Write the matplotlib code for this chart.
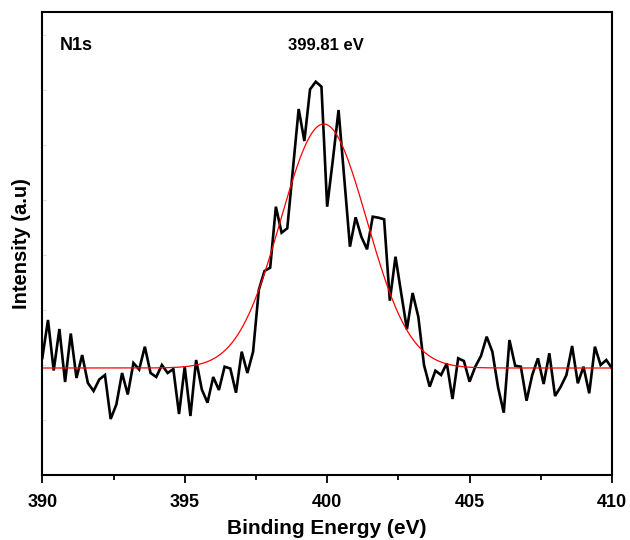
import numpy as np
import matplotlib
matplotlib.use("Agg")
import matplotlib.pyplot as plt
from matplotlib.ticker import MultipleLocator

# Binding energy grid (eV)
energy = np.linspace(390.0, 410.0, 101)

intensity_px = [
    358, 320, 370.5, 329, 382, 333.5, 378, 355, 383, 391,
    379.5, 375, 419, 404.5, 373, 394.5, 363, 369.5, 346.7, 373,
    377, 365, 373, 369, 414, 366.7, 416, 360, 389.5, 402.7,
    377, 390, 366.7, 368.5, 392.7, 351.7, 373, 351.7, 290, 271,
    267.7, 206.7, 232.7, 228.3, 168.7, 109, 141, 89.3, 81.7, 86.7,
    206.7, 160, 110, 178, 246.7, 217.3, 236.7, 249.3, 216.7, 217.7,
    219.3, 300.7, 256.7, 293.3, 329.3, 293, 316.7, 365, 386.7, 370.7,
    375, 363.3, 399, 358.3, 361, 381.7, 366.7, 356, 336.7, 351.7,
    387.3, 412.7, 340, 365.7, 366.7, 400.7, 375, 358.3, 384, 353.3,
    396, 386.7, 375, 346, 383.3, 366.7, 393.3, 346.7, 365, 360,
    368.3,
]
intensity = [475 - v for v in intensity_px]

# Gaussian fit parameters
fit_center = 399.88
fit_fwhm = 3.56
fit_baseline = 475 - 368
fit_height = 368 - 124

peak_label = "399.81 eV"
core_label = "N1s"

sigma = fit_fwhm / (2 * np.sqrt(2 * np.log(2)))
x_fit = np.linspace(390.0, 410.0, 801)
y_fit = fit_baseline + fit_height * np.exp(-0.5 * ((x_fit - fit_center) / sigma) ** 2)

plt.rcParams['font.family'] = ['Liberation Sans', 'DejaVu Sans']

fig = plt.figure(figsize=(6.3, 5.4), dpi=100)
ax = fig.add_axes([42.3 / 630, 1 - 475 / 540, (612 - 42.3) / 630, (475 - 12) / 540])

ax.plot(energy, intensity, color='black', lw=1.9, solid_joinstyle='miter')
ax.plot(x_fit, y_fit, color='red', lw=0.9)

ax.set_xlim(390, 410)
ax.set_ylim(0, 463)

ax.xaxis.set_major_locator(MultipleLocator(5))
ax.xaxis.set_minor_locator(MultipleLocator(2.5))
ax.tick_params(axis='x', which='major', direction='out', length=6, width=1.3,
               labelsize=13, pad=7.5)
ax.tick_params(axis='x', which='minor', direction='out', length=3.5, width=1.3)
for lab in ax.get_xticklabels():
    lab.set_fontweight('bold')

ax.yaxis.set_major_locator(MultipleLocator(55))
ax.tick_params(axis='y', which='major', direction='in', length=3, width=0.6,
               color='#d8d8d8', labelleft=False)
ax.tick_params(axis='y', which='minor', left=False)

for s in ax.spines.values():
    s.set_linewidth(1.5)

ax.set_xlabel('Binding Energy (eV)', fontsize=15, fontweight='bold', labelpad=6)
ax.set_ylabel('Intensity (a.u)', fontsize=14.5, fontweight='bold', labelpad=8)

ax.text(390.62, 430, core_label, fontsize=13, fontweight='bold', va='center', ha='left')
ax.text(399.96, 429, peak_label, fontsize=12, fontweight='bold', va='center', ha='center')

fig.savefig('out.png', dpi=100)
